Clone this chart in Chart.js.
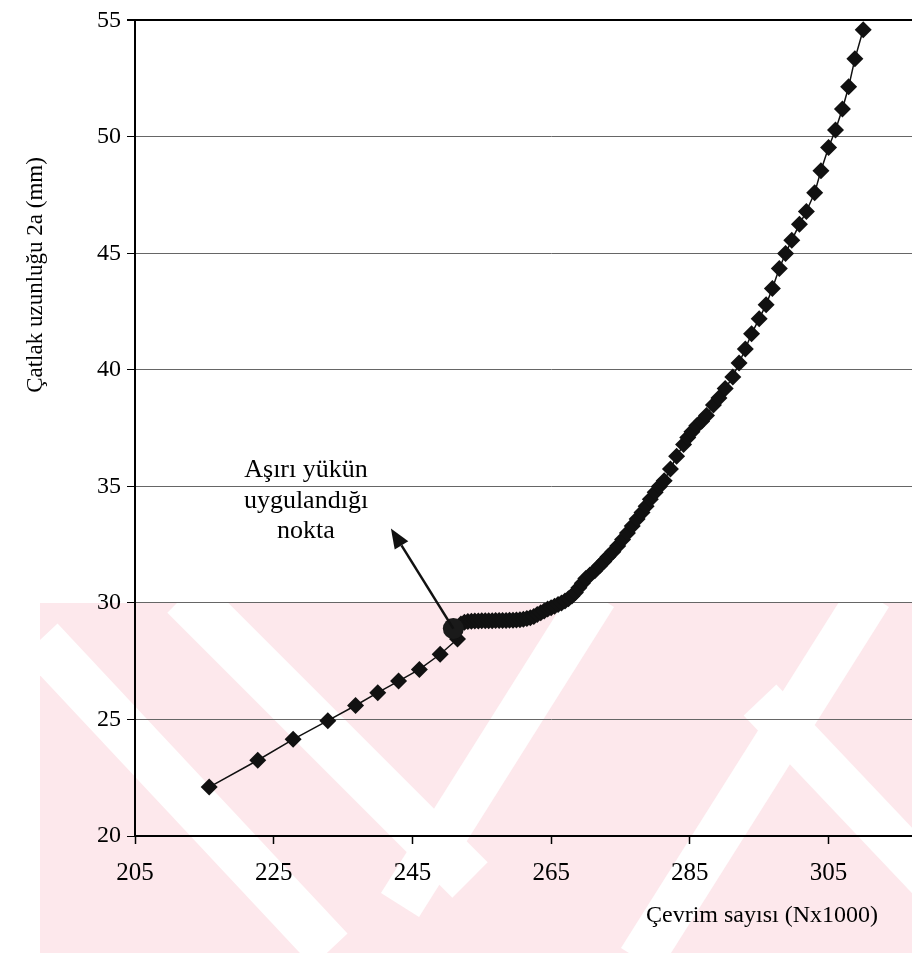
<!DOCTYPE html>
<html>
<head>
<meta charset="utf-8">
<script src="https://cdn.jsdelivr.net/npm/chart.js@4.4.1/dist/chart.umd.min.js"></script>
<style>
  html, body { margin: 0; padding: 0; background: #fff; overflow: hidden; }
  #wrap { width: 1000px; height: 953px; }
</style>
</head>
<body>
<div id="wrap"><canvas id="crackChart" width="1000" height="953"></canvas></div>
<script>
// Çevrim sayısı (x1000) ve çatlak uzunluğu 2a (mm)
const cycles = [
  215.7, 222.7, 227.8, 232.8, 236.8, 240.0, 243.0, 246.0, 249.0, 251.5,
  251.2, 252.0, 252.5, 253.0, 253.5, 254.0, 254.5, 255.0, 255.5, 256.0,
  256.5, 257.0, 257.5, 258.0, 258.5, 259.0, 259.5, 260.0, 260.5, 261.0,
  261.5, 262.0, 262.5, 263.0, 263.5, 264.0, 264.5, 265.0, 265.5, 266.0,
  266.5, 267.0, 267.5, 268.0, 268.5, 269.0, 269.5, 270.0, 270.6, 271.3,
  272.0, 272.6, 273.2, 273.9, 274.6, 275.3, 276.0, 276.7, 277.4, 278.1,
  278.7, 279.3, 280.0, 280.6, 281.3, 282.2, 283.1, 284.1, 284.7, 285.3,
  286.0, 286.7, 287.4, 288.4, 289.2, 290.1, 291.2, 292.1, 293.0, 293.9,
  295.0, 296.0, 296.9, 297.9, 298.8, 299.7, 300.8, 301.8, 303.0, 303.9,
  305.0, 306.0, 307.0, 307.9, 308.8, 310.0
];
const crackLength = [
  22.10, 23.25, 24.15, 24.95, 25.60, 26.15, 26.65, 27.15, 27.80, 28.45,
  28.90, 29.10, 29.17, 29.20, 29.22, 29.23, 29.23, 29.24, 29.24, 29.24,
  29.24, 29.25, 29.25, 29.25, 29.25, 29.26, 29.26, 29.27, 29.28, 29.30,
  29.33, 29.37, 29.42, 29.50, 29.58, 29.66, 29.74, 29.80, 29.86, 29.93,
  30.00, 30.08, 30.18, 30.30, 30.45, 30.65, 30.85, 31.05, 31.20, 31.38,
  31.60, 31.78, 31.98, 32.20, 32.45, 32.72, 33.00, 33.30, 33.60, 33.88,
  34.15, 34.45, 34.75, 35.00, 35.25, 35.75, 36.30, 36.80, 37.10, 37.35,
  37.60, 37.80, 38.05, 38.50, 38.80, 39.20, 39.70, 40.30, 40.90, 41.55,
  42.20, 42.80, 43.50, 44.35, 45.00, 45.57, 46.25, 46.80, 47.60, 48.55,
  49.55, 50.30, 51.20, 52.15, 53.35, 54.60
];

// aşırı yükün uygulandığı nokta
const overloadCycle = [250.9];
const overloadLength = [28.9];

const xTicks = [205, 225, 245, 265, 285, 305, 325];
const yTicks = [20, 25, 30, 35, 40, 45, 50, 55];

const serif = "'Liberation Serif', 'Times New Roman', serif";

// soluk pembe filigran (arka plan)
const watermark = {
  id: "watermark",
  beforeDraw(chart) {
    const ctx = chart.ctx;
    ctx.save();
    ctx.beginPath();
    ctx.rect(40, 603, chart.width, chart.height - 603);
    ctx.clip();
    ctx.fillStyle = "#fde8ec";
    ctx.fillRect(40, 603, chart.width, chart.height - 603);
    ctx.strokeStyle = "#ffffff";
    ctx.lineCap = "butt";
    const gaps = [
      [40, 640, 330, 950, 48],
      [185, 595, 470, 880, 50],
      [595, 595, 400, 905, 45],
      [870, 595, 640, 960, 45],
      [760, 700, 940, 890, 45]
    ];
    gaps.forEach(([x1, y1, x2, y2, w]) => {
      ctx.lineWidth = w;
      ctx.beginPath();
      ctx.moveTo(x1, y1);
      ctx.lineTo(x2, y2);
      ctx.stroke();
    });
    ctx.restore();
  }
};

// ok, not ve eksen başlıkları
const annotations = {
  id: "annotations",
  afterDraw(chart) {
    const ctx = chart.ctx;
    const xs = chart.scales.x, ys = chart.scales.y;
    ctx.save();

    // ok: aşırı yük noktasından yukarı-sola
    const x0 = xs.getPixelForValue(overloadCycle[0]);
    const y0 = ys.getPixelForValue(overloadLength[0]);
    const x1 = xs.getPixelForValue(241.9);
    const y1 = ys.getPixelForValue(33.2);
    const ang = Math.atan2(y1 - y0, x1 - x0);
    const head = 20, half = 8;
    const bx = x1 - head * Math.cos(ang), by = y1 - head * Math.sin(ang);
    ctx.strokeStyle = "#111";
    ctx.fillStyle = "#111";
    ctx.lineWidth = 2.5;
    ctx.beginPath();
    ctx.moveTo(x0, y0);
    ctx.lineTo(bx, by);
    ctx.stroke();
    ctx.beginPath();
    ctx.moveTo(x1, y1);
    ctx.lineTo(bx + half * Math.sin(ang), by - half * Math.cos(ang));
    ctx.lineTo(bx - half * Math.sin(ang), by + half * Math.cos(ang));
    ctx.closePath();
    ctx.fill();

    ctx.fillStyle = "#000";
    ctx.font = "26px " + serif;
    ctx.textAlign = "center";
    ctx.textBaseline = "middle";
    ctx.fillText("Aşırı yükün", 306, 470);
    ctx.fillText("uygulandığı", 306, 501);
    ctx.fillText("nokta", 306, 531);

    ctx.font = "24px " + serif;
    ctx.textAlign = "right";
    ctx.fillText("Çevrim sayısı (Nx1000)", 878, 916);

    ctx.translate(36, 275);
    ctx.rotate(-Math.PI / 2);
    ctx.textAlign = "center";
    ctx.font = "23px " + serif;
    ctx.fillText("Çatlak uzunluğu 2a (mm)", 0, 0);
    ctx.restore();
  }
};

const ctx = document.getElementById("crackChart").getContext("2d");

new Chart(ctx, {
  type: "scatter",
  data: {
    datasets: [
      {
        data: cycles.map((c, i) => ({ x: c, y: crackLength[i] })),
        showLine: true,
        borderColor: "#111",
        borderWidth: 1.5,
        pointStyle: "rectRot",
        pointRadius: 8.5,
        pointBackgroundColor: "#111",
        pointBorderWidth: 0,
        order: 2
      },
      {
        data: overloadCycle.map((c, i) => ({ x: c, y: overloadLength[i] })),
        pointStyle: "circle",
        pointRadius: 10.5,
        pointBackgroundColor: "#1a1a1a",
        pointBorderWidth: 0,
        order: 1
      }
    ]
  },
  options: {
    responsive: false,
    animation: false,
    layout: { padding: { top: 13, right: 8, left: 0, bottom: 0 } },
    plugins: {
      legend: { display: false },
      tooltip: { enabled: false }
    },
    scales: {
      x: {
        type: "linear",
        min: 205,
        max: 325,
        afterBuildTicks: s => { s.ticks = xTicks.map(v => ({ value: v })); },
        afterFit: s => { s.height = 117; },
        grid: {
          drawOnChartArea: false,
          drawTicks: true,
          tickLength: 8,
          tickColor: "#000",
          tickWidth: 1.5
        },
        border: { color: "#000", width: 2 },
        ticks: { color: "#000", font: { family: serif, size: 25 }, padding: 14 }
      },
      y: {
        min: 20,
        max: 55,
        afterBuildTicks: s => { s.ticks = yTicks.map(v => ({ value: v })); },
        afterFit: s => { s.width = 135; },
        grid: {
          color: c => (c.tick && c.tick.value === 55 ? "#000" : "#666"),
          lineWidth: c => (c.tick && c.tick.value === 55 ? 2 : 1),
          tickColor: "#000",
          tickLength: 8
        },
        border: { color: "#000", width: 2 },
        ticks: { color: "#000", font: { family: serif, size: 24 }, padding: 6 }
      }
    }
  },
  plugins: [watermark, annotations]
});
</script>
</body>
</html>
